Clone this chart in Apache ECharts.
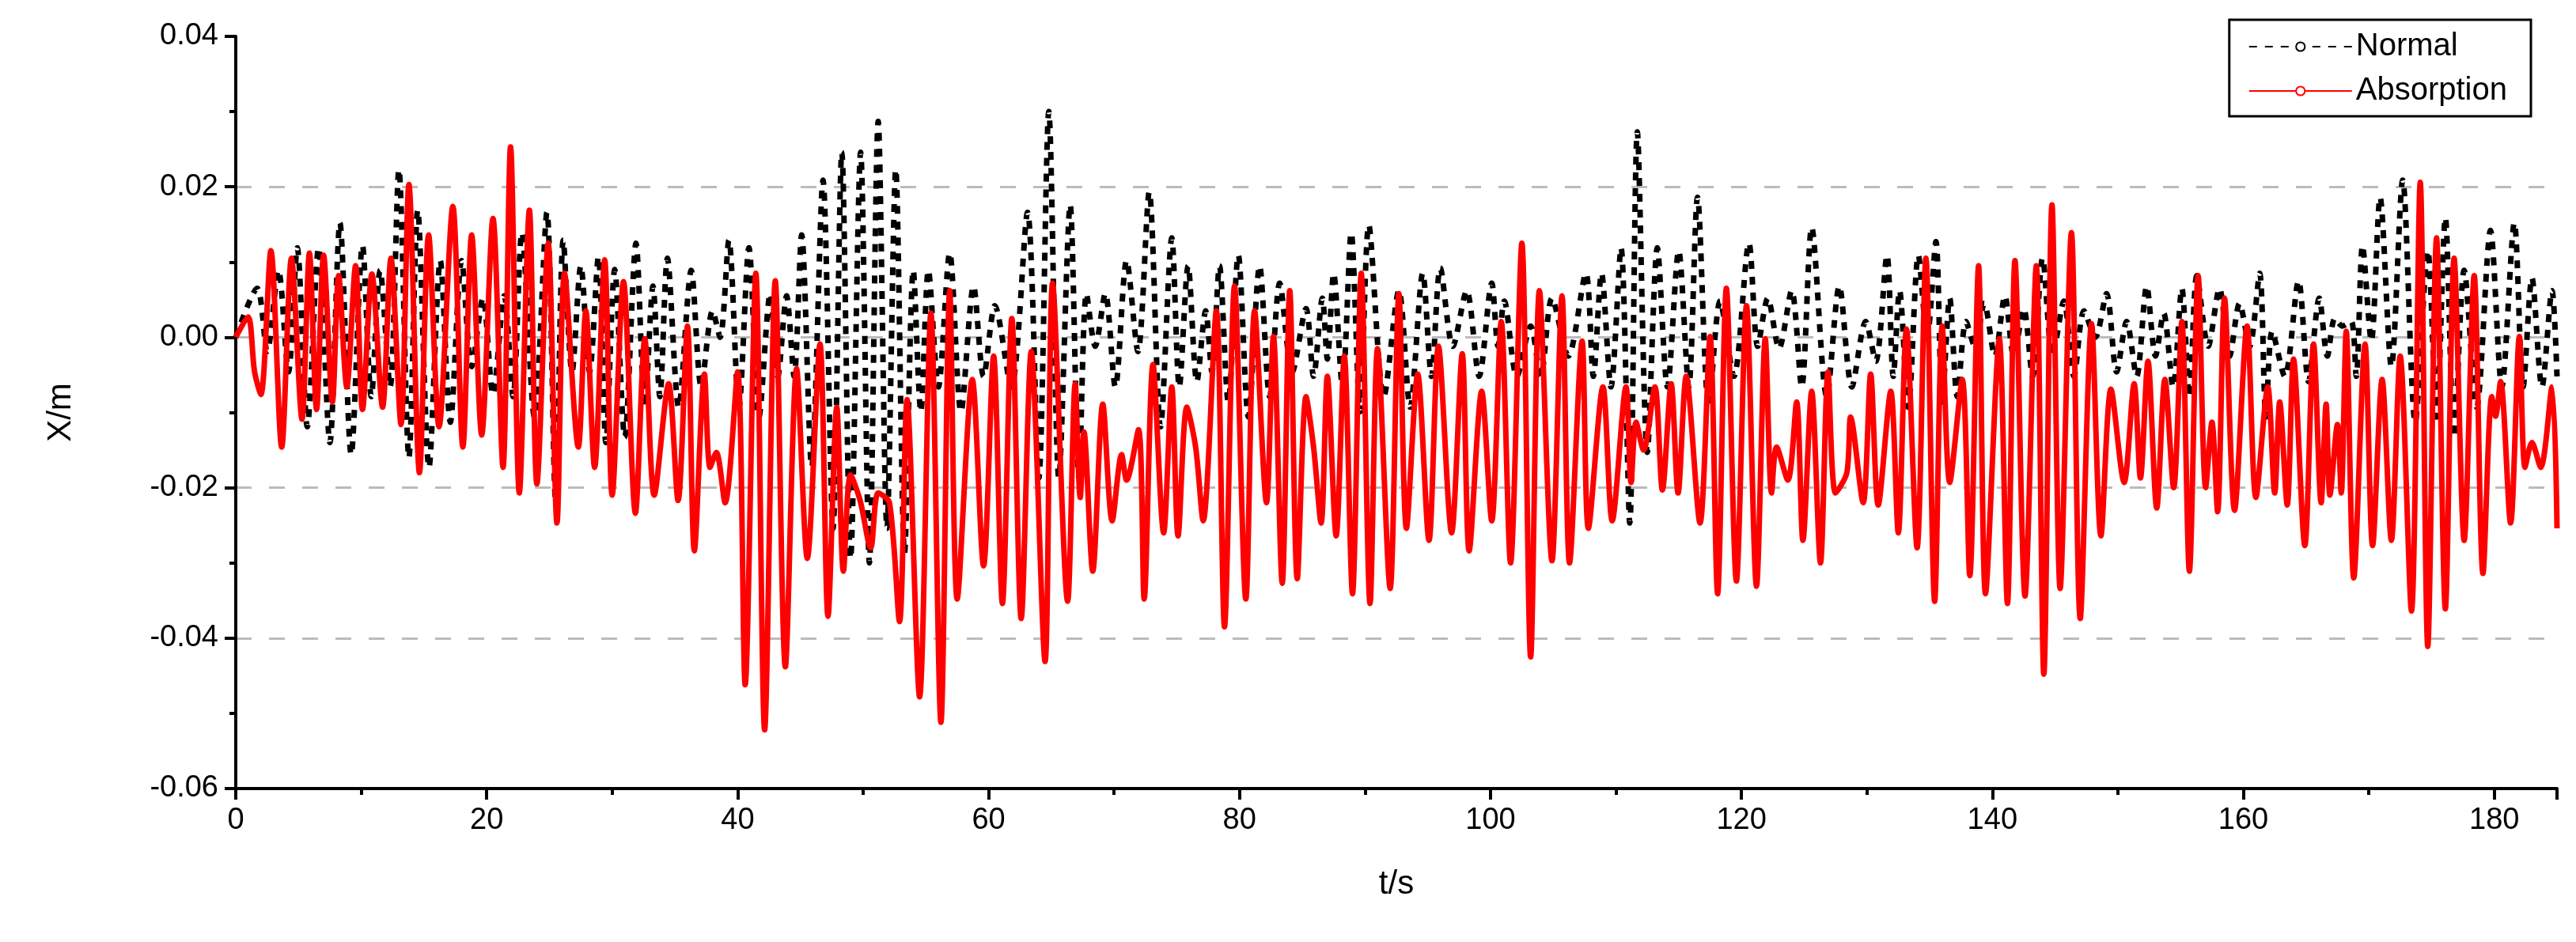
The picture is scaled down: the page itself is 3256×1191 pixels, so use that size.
<!DOCTYPE html>
<html><head><meta charset="utf-8">
<script src="https://cdn.jsdelivr.net/npm/echarts@6/dist/echarts.min.js"></script>
<style>html,body{margin:0;padding:0;background:#fff}#c{width:3256px;height:1191px}</style>
</head><body><div id="c"></div>
<script>
const redT = [0,0.97,1.5,2.0,2.8,3.66,4.44,5.28,5.87,6.44,7.0,7.7,8.2,8.85,9.55,10.1,10.85,11.7,12.37,13.17,13.8,14.64,15.37,16.2,17.3,18.1,18.8,19.6,20.5,21.3,21.9,22.6,23.4,24.0,24.9,25.6,26.2,27.3,27.9,28.6,29.4,30.0,30.9,31.85,32.6,33.35,34.5,35.25,36.0,36.55,37.35,37.8,38.3,39.0,40.0,40.6,41.45,42.15,43.0,43.8,44.7,45.55,46.56,47.2,47.9,48.43,49.0,49.76,50.6,51.2,52.1,52.9,53.5,54.5,55.4,56.2,56.9,57.5,58.7,59.6,60.4,61.1,61.85,62.6,63.4,64.5,65.1,66.3,66.9,67.3,67.6,68.3,69.1,69.85,70.6,71.0,71.95,72.4,73.1,73.95,74.6,75.1,75.8,76.5,77.1,78.15,78.8,79.6,80.5,81.2,82.15,82.7,83.4,84.0,84.6,85.3,85.9,86.5,87.0,87.7,88.35,89.0,89.7,90.4,91.0,92.0,92.7,93.3,94.2,95.1,95.85,96.9,97.75,98.3,99.3,100.1,100.86,101.6,102.5,103.2,103.9,104.9,105.7,106.3,107.3,107.8,108.96,109.7,110.8,111.2,111.6,112.2,113.1,113.7,114.4,114.95,115.6,116.7,117.5,118.1,118.8,119.6,120.4,121.2,121.9,122.4,122.8,123.7,124.4,124.9,125.6,126.3,126.9,127.5,128.4,128.7,129.7,130.3,130.9,131.9,132.5,133.15,134.0,134.7,135.4,136.0,136.6,137.6,138.2,138.9,139.45,140.55,141.2,141.8,142.6,143.5,144.1,144.75,145.4,146.3,147.0,147.9,148.65,149.45,150.5,151.3,151.8,152.4,153.1,153.75,154.45,155.1,155.7,156.4,157.0,157.5,157.95,158.5,159.3,160.3,161.0,161.95,162.5,162.9,163.5,164.0,164.9,165.6,166.2,166.6,166.9,167.5,167.8,168.2,168.8,169.7,170.3,171.06,171.8,172.5,173.4,174.1,174.7,175.4,176.1,176.8,177.6,178.4,179.1,179.8,180.1,180.5,181.3,182.0,182.45,183.0,183.7,184.6,185];
const redV = [0,0.0027,-0.0046,-0.0076,0.0115,-0.0146,0.0105,-0.0109,0.0112,-0.0096,0.0109,-0.0086,0.0082,-0.0066,0.0095,-0.0096,0.0084,-0.0093,0.0105,-0.0116,0.0203,-0.018,0.0136,-0.0119,0.0174,-0.0146,0.0136,-0.013,0.0158,-0.0173,0.0253,-0.0207,0.0169,-0.0195,0.0125,-0.0247,0.0085,-0.0146,0.0035,-0.0173,0.0103,-0.021,0.0074,-0.0234,-0.0002,-0.021,-0.0062,-0.0217,0.0015,-0.0284,-0.0049,-0.0173,-0.0153,-0.022,-0.0046,-0.0462,0.0085,-0.0522,0.0075,-0.0438,-0.0042,-0.0294,-0.0009,-0.0371,-0.0093,-0.0311,-0.0183,-0.0217,-0.028,-0.0207,-0.022,-0.0378,-0.0083,-0.0478,0.0032,-0.0512,0.0062,-0.0348,-0.0056,-0.0304,-0.0025,-0.0354,0.0025,-0.0374,-0.0019,-0.0431,0.0072,-0.0351,-0.0062,-0.0213,-0.0126,-0.0311,-0.0089,-0.0244,-0.0156,-0.019,-0.0123,-0.0348,-0.0036,-0.026,-0.0066,-0.0264,-0.0093,-0.0146,-0.0244,0.0035,-0.0385,0.0068,-0.0348,0.0035,-0.022,0.0001,-0.0327,0.0062,-0.0321,-0.0079,-0.0146,-0.0247,-0.0052,-0.0264,-0.0025,-0.0341,0.0085,-0.0354,-0.0015,-0.0334,0.0058,-0.0254,-0.0049,-0.027,-0.0012,-0.026,-0.0022,-0.0284,-0.0072,-0.0244,0.0021,-0.030,0.0125,-0.0425,0.0062,-0.0297,0.0055,-0.030,-0.0005,-0.0254,-0.0066,-0.0244,-0.0066,-0.0193,-0.0113,-0.015,-0.0066,-0.0203,-0.0062,-0.0207,-0.0052,-0.0247,0.0001,-0.0341,0.0065,-0.0324,0.0042,-0.0331,-0.0002,-0.0207,-0.0146,-0.019,-0.0086,-0.027,-0.0072,-0.030,-0.0046,-0.0207,-0.018,-0.0106,-0.022,-0.0049,-0.0223,-0.0072,-0.026,0.0011,-0.028,0.0105,-0.0351,0.0015,-0.0193,-0.0056,-0.0317,0.0095,-0.0341,-0.0002,-0.0354,0.0102,-0.0344,0.0095,-0.0448,0.0176,-0.0334,0.0139,-0.0374,0.0018,-0.0264,-0.0069,-0.0193,-0.0062,-0.0187,-0.0032,-0.0227,-0.0056,-0.02,0.0021,-0.0311,0.0082,-0.02,-0.0113,-0.0232,0.0052,-0.023,0.0015,-0.0213,-0.0066,-0.0207,-0.0086,-0.0223,-0.0029,-0.0277,-0.0009,-0.022,-0.0089,-0.021,-0.0116,-0.0207,0.0008,-0.032,-0.0009,-0.0277,-0.0056,-0.027,-0.0025,-0.0364,0.0206,-0.0411,0.0132,-0.0361,0.0105,-0.027,0.0082,-0.0314,-0.0079,-0.0105,-0.0059,-0.0247,0.0001,-0.0173,-0.014,-0.0173,-0.0066,-0.0254];

const blackPeakT = [1.7,3.4,4.9,6.6,8.3,10.1,11.5,13.0,14.5,16.3,18.0,19.7,21.4,22.8,24.8,26.1,27.5,28.9,30.2,31.9,33.25,34.4,36.3,38.0,39.3,40.9,42.6,43.9,45.1,46.8,48.3,49.8,51.2,52.6,54.0,55.2,56.9,58.8,60.5,63.1,64.8,66.5,67.8,69.3,71.0,72.8,74.6,75.9,77.3,78.4,79.9,81.6,83.2,85.3,86.6,87.5,88.9,90.3,92.7,94.6,96.0,98.1,100.1,101.1,103.2,104.9,107.6,108.85,110.4,111.7,113.3,115.0,116.5,118.3,120.6,122.1,124.0,125.6,127.8,129.9,131.6,132.6,134.1,135.5,136.6,137.9,139.35,141.0,142.5,144.0,145.7,147.3,149.1,150.7,152.3,153.65,155.1,156.3,158.1,159.7,161.3,162.3,164.4,166.05,167.3,168.6,169.5,170.9,172.7,174.7,176.1,177.6,179.7,181.6,183.0,184.6];
const blackPeakV = [0.0065,0.0089,0.0119,0.0119,0.0152,0.0122,0.0089,0.0223,0.0169,0.0102,0.0102,0.0052,0.0055,0.0139,0.0166,0.0129,0.0095,0.0107,0.009,0.0125,0.0068,0.0105,0.0089,0.0035,0.0129,0.0119,0.0058,0.0055,0.0136,0.0209,0.0246,0.0246,0.0287,0.0223,0.0089,0.0089,0.0112,0.0068,0.0042,0.0166,0.030,0.0176,0.0058,0.0058,0.0102,0.0193,0.0132,0.0095,0.0035,0.0095,0.0109,0.0095,0.0072,0.0038,0.0052,0.0085,0.0139,0.0149,0.0062,0.0085,0.0092,0.0062,0.0072,0.0048,0.0015,0.0052,0.0085,0.0085,0.0119,0.0273,0.0119,0.0115,0.0186,0.0048,0.0125,0.0052,0.0062,0.0146,0.0068,0.0021,0.0109,0.0062,0.0109,0.0127,0.0052,0.0021,0.0045,0.0055,0.0038,0.0105,0.0048,0.0035,0.0058,0.0021,0.0068,0.0032,0.0065,0.0082,0.0065,0.0045,0.0085,0.0008,0.0075,0.0052,0.0025,0.0021,0.0122,0.0186,0.0209,0.0115,0.0159,0.0089,0.0142,0.0152,0.0079,0.0062];
const blackTroughT = [0.9,2.5,4.2,5.7,7.5,9.2,10.8,12.3,13.8,15.4,17.1,18.8,20.5,22.1,23.8,25.5,26.8,28.2,29.5,31.0,32.6,33.8,35.3,37.1,38.6,40.1,41.7,43.2,44.5,45.9,47.6,49.0,50.5,51.9,53.3,54.6,56.0,57.8,59.6,61.8,64.0,65.6,67.2,68.5,70.1,71.9,73.7,75.2,76.6,77.8,79.1,80.7,82.4,84.2,85.9,87.0,88.2,89.6,91.5,93.6,95.3,97.0,99.1,100.6,102.1,104.0,106.2,108.2,109.6,111.1,112.5,114.1,115.8,117.4,119.4,121.3,123.0,124.8,126.8,128.8,130.7,132.1,133.3,134.8,136.0,137.2,138.6,140.2,141.7,143.2,144.8,146.5,148.2,149.9,151.5,153.0,154.4,155.7,157.2,158.9,160.5,161.8,163.3,165.2,166.7,167.9,169.0,170.2,171.8,173.7,175.4,176.8,178.6,180.6,182.3,183.8,185];
const blackTroughV = [0,-0.0019,-0.0046,-0.0119,-0.014,-0.0156,-0.0079,-0.0066,-0.016,-0.0173,-0.0113,-0.0039,-0.0076,-0.0079,-0.0106,-0.022,-0.0046,-0.0046,-0.014,-0.0133,-0.0093,-0.0079,-0.0093,-0.0066,0.0,-0.0093,-0.0106,-0.0052,-0.0052,-0.0173,-0.0254,-0.0294,-0.030,-0.0254,-0.0287,-0.0099,-0.0066,-0.0099,-0.0052,-0.0066,-0.0187,-0.0187,-0.0187,-0.0012,-0.0066,-0.0019,-0.0119,-0.0066,-0.0059,-0.0046,-0.0086,-0.0106,-0.0079,-0.0046,-0.0052,-0.0029,-0.0066,-0.0099,-0.0079,-0.0093,-0.0052,-0.0012,-0.0052,-0.0012,-0.0052,-0.0052,-0.0025,-0.0052,-0.0066,-0.0247,-0.0153,-0.0066,-0.0066,-0.0093,-0.0052,-0.0012,-0.0015,-0.0066,-0.0079,-0.0066,-0.0032,-0.0052,-0.0093,0.0,-0.0086,-0.0079,-0.0012,-0.0025,-0.0025,-0.0052,-0.0025,-0.0052,0.0,-0.0046,-0.0052,-0.0025,-0.0066,-0.0079,-0.0012,-0.0025,-0.0012,-0.0106,-0.0052,-0.0059,-0.0025,0.0015,-0.0052,-0.0005,-0.0039,-0.0113,-0.0106,-0.0133,-0.0093,-0.0066,-0.0066,-0.0066,-0.0052,-0.0012,-0.0066];

const xTicks = [0,20,40,60,80,100,120,140,160,180];
const yTicks = [-0.06,-0.04,-0.02,0.00,0.02,0.04];

const redData = redT.map((t,i)=>[t,redV[i]]);
const blackData = [[0,0]];
blackPeakT.forEach((t,i)=>{
  blackData.push([t,blackPeakV[i]]);
  blackData.push([blackTroughT[i+1],blackTroughV[i+1]]);
});
blackData.sort((a,b)=>a[0]-b[0]);

const font = 'Liberation Sans, Arial, sans-serif';
const chart = echarts.init(document.getElementById('c'));
chart.setOption({
  animation:false,
  backgroundColor:'#fff',
  grid:{left:298,right:24,top:46,bottom:194,containLabel:false},
  legend:{
    right:57, top:25, orient:'vertical', itemWidth:130, itemHeight:14, itemGap:16,
    padding:[14,30,12,24], borderColor:'#000', borderWidth:3,
    textStyle:{fontFamily:font,fontSize:40,color:'#000'},
    data:['Normal','Absorption']
  },
  xAxis:{
    type:'value', min:0, max:185, interval:20,
    name:'t/s', nameLocation:'middle', nameGap:100,
    nameTextStyle:{fontFamily:font,fontSize:42,color:'#000'},
    axisLine:{onZero:false,lineStyle:{color:'#000',width:4}},
    axisTick:{length:14,lineStyle:{width:4,color:'#000'}},
    minorTick:{show:true,splitNumber:2,length:8,lineStyle:{width:4,color:'#000'}},
    axisLabel:{fontFamily:font,fontSize:38,color:'#000',margin:22,showMaxLabel:false},
    splitLine:{show:false}
  },
  yAxis:{
    type:'value', min:-0.06, max:0.04, interval:0.02,
    name:'X/m', nameLocation:'middle', nameGap:200, nameRotate:90,
    nameTextStyle:{fontFamily:font,fontSize:42,color:'#000'},
    axisLine:{show:true,lineStyle:{color:'#000',width:4}},
    axisTick:{show:true,length:14,lineStyle:{width:4,color:'#000'}},
    minorTick:{show:true,splitNumber:2,length:8,lineStyle:{width:4,color:'#000'}},
    axisLabel:{fontFamily:font,fontSize:38,color:'#000',margin:22,formatter:v=>v.toFixed(2)},
    splitLine:{show:true,lineStyle:{type:[20,22],width:3,color:['transparent','#bbb','#bbb','#bbb','#bbb','transparent']}}
  },
  series:[
    {name:'Normal',type:'line',data:blackData,showSymbol:false,smooth:0.3,
     lineStyle:{color:'#000',width:7,type:[10,10]},itemStyle:{color:'#000'},z:2},
    {name:'Absorption',type:'line',data:redData,showSymbol:false,smooth:0.3,
     lineStyle:{color:'#ff0000',width:7},itemStyle:{color:'#ff0000'},z:3}
  ]
});
</script></body></html>
